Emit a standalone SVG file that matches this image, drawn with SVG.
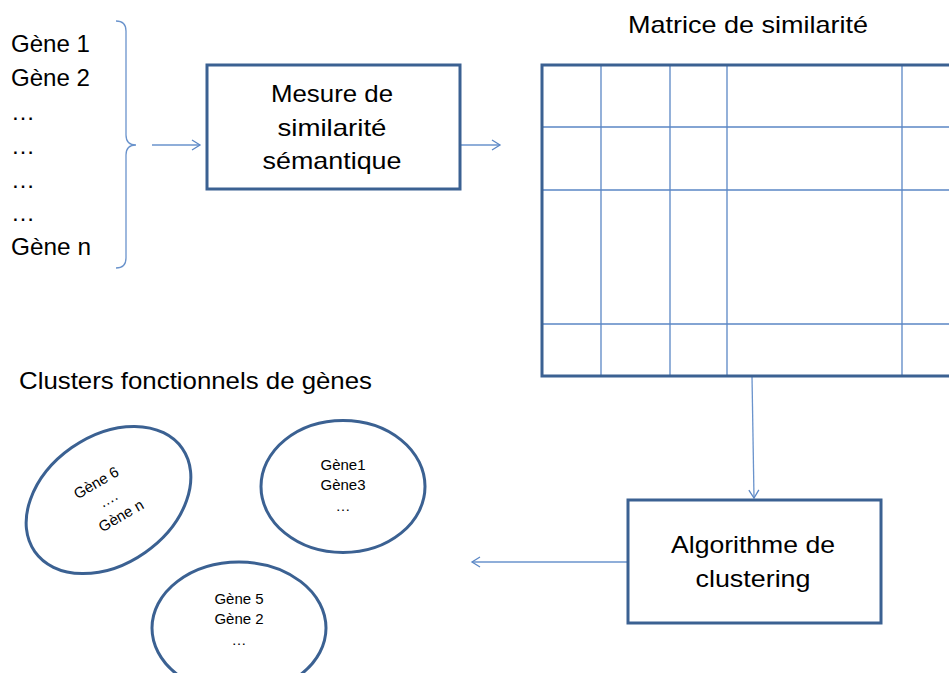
<svg xmlns="http://www.w3.org/2000/svg" width="949" height="673" viewBox="0 0 949 673">
<defs>
<marker id="arr" markerWidth="12" markerHeight="12" refX="10" refY="6" orient="auto" markerUnits="userSpaceOnUse">
<path d="M2,1 L10,6 L2,11" fill="none" stroke="#5B87C5" stroke-width="1.3"/>
</marker>
</defs>
<style>
text{font-family:"Liberation Sans",Arial,sans-serif;fill:#000}
.big{font-size:24px}
.box{fill:#fff;stroke:#3B6192;stroke-width:3}
.ell{fill:#fff;stroke:#3B6192;stroke-width:3}
.grid{stroke:#5B87C5;stroke-width:1.3;fill:none}
.conn{stroke:#6A93CC;stroke-width:1.3;fill:none}
.sm{font-size:15px}
</style>
<rect width="949" height="673" fill="#fff"/>

<g id="genes">
<text class="big" x="11" y="52" textLength="79" lengthAdjust="spacingAndGlyphs">Gène 1</text>
<text class="big" x="11" y="86" textLength="79" lengthAdjust="spacingAndGlyphs">Gène 2</text>
<text class="big" x="11" y="120">…</text>
<text class="big" x="11" y="154">…</text>
<text class="big" x="11" y="188">…</text>
<text class="big" x="11" y="221">…</text>
<text class="big" x="11" y="255" textLength="80" lengthAdjust="spacingAndGlyphs">Gène n</text>
<path class="conn" d="M116,21 Q126,21 126,31 L126,135 Q126,145 136,145 Q126,145 126,155 L126,258 Q126,268 116,268"/>
</g>

<g id="connectors">
<line class="conn" x1="152" y1="145" x2="200" y2="145" marker-end="url(#arr)"/>
<line class="conn" x1="460" y1="145" x2="500" y2="145" marker-end="url(#arr)"/>
<line class="conn" x1="752" y1="376" x2="754" y2="498" marker-end="url(#arr)"/>
<line class="conn" x1="628" y1="562" x2="472" y2="562" marker-end="url(#arr)"/>
</g>

<g id="mesure">
<rect class="box" x="207" y="65" width="253" height="124"/>
<text class="big" x="332" y="102" text-anchor="middle" textLength="122" lengthAdjust="spacingAndGlyphs">Mesure de</text>
<text class="big" x="332" y="136" text-anchor="middle" textLength="109" lengthAdjust="spacingAndGlyphs">similarité</text>
<text class="big" x="332" y="169" text-anchor="middle" textLength="139" lengthAdjust="spacingAndGlyphs">sémantique</text>
</g>

<g id="matrice">
<text class="big" x="748" y="33" text-anchor="middle" textLength="240" lengthAdjust="spacingAndGlyphs">Matrice de similarité</text>
<path class="grid" d="M601,65V376M670,65V376M727,65V376M902,65V376M542,127H949M542,190H949M542,324H949"/>
<path d="M952,65H542V376H952" fill="none" stroke="#3B6192" stroke-width="3"/>
</g>

<g id="algo">
<rect class="box" x="628" y="500" width="253" height="123"/>
<text class="big" x="753" y="553" text-anchor="middle" textLength="164" lengthAdjust="spacingAndGlyphs">Algorithme de</text>
<text class="big" x="753" y="587" text-anchor="middle" textLength="115" lengthAdjust="spacingAndGlyphs">clustering</text>
</g>

<g id="clusters-title">
<text class="big" x="19" y="389" textLength="353" lengthAdjust="spacingAndGlyphs">Clusters fonctionnels de gènes</text>
</g>

<g id="cluster1">
<ellipse class="ell" cx="0" cy="0" rx="90" ry="64" transform="translate(108.5,500) rotate(-35)"/>
<g transform="translate(108.5,500) rotate(-30)">
<text class="sm" x="-2" y="-16" text-anchor="middle">Gène 6</text>
<text class="sm" x="0" y="4" text-anchor="middle">….</text>
<text class="sm" x="3" y="25" text-anchor="middle">Gène n</text>
</g>
</g>

<g id="cluster2">
<ellipse class="ell" cx="343" cy="486.5" rx="82" ry="66"/>
<text class="sm" x="343" y="470" text-anchor="middle">Gène1</text>
<text class="sm" x="343" y="490" text-anchor="middle">Gène3</text>
<text class="sm" x="343" y="511" text-anchor="middle">…</text>
</g>

<g id="cluster3">
<ellipse class="ell" cx="239" cy="628" rx="87" ry="66"/>
<text class="sm" x="239" y="604" text-anchor="middle">Gène 5</text>
<text class="sm" x="239" y="624" text-anchor="middle">Gène 2</text>
<text class="sm" x="239" y="645" text-anchor="middle">…</text>
</g>
</svg>
